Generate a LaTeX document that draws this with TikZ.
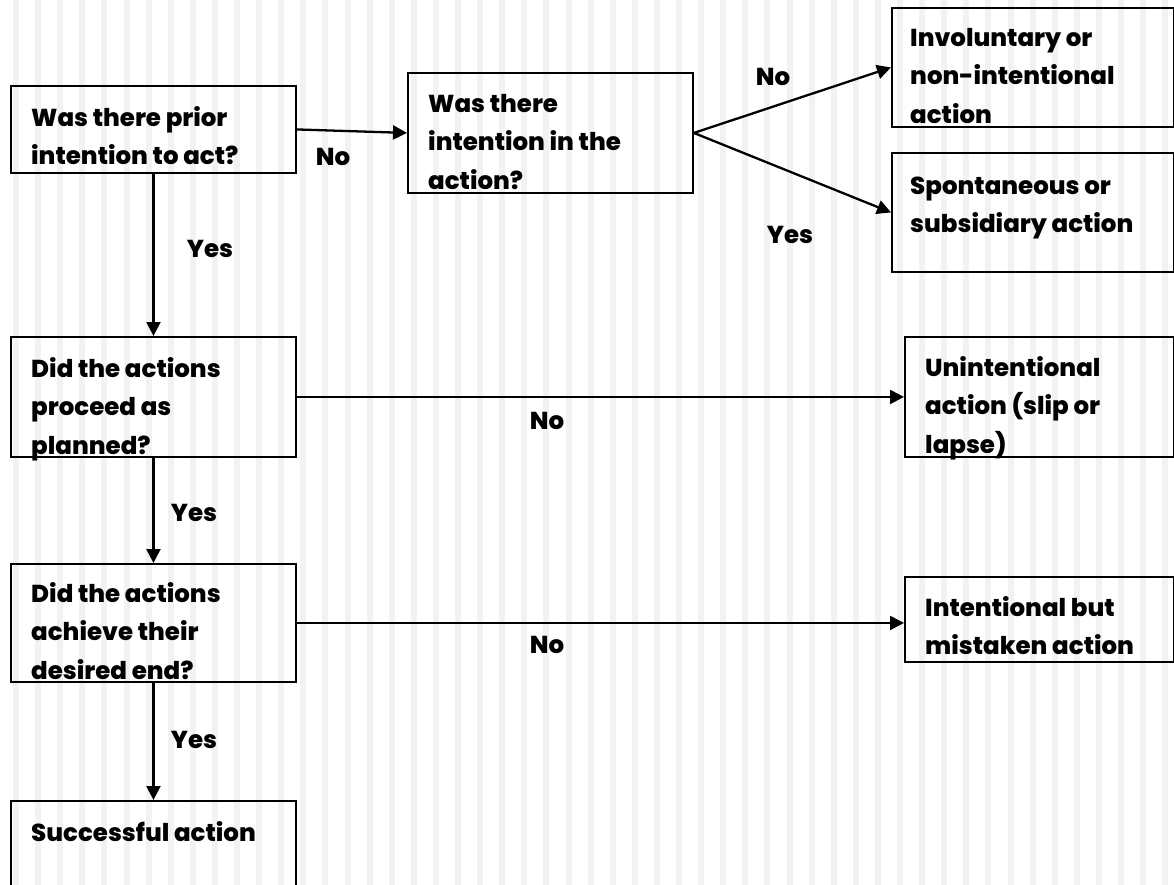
\documentclass[tikz,border=0pt]{standalone}
\usepackage{fontspec}
\setmainfont{Poppins}[BoldFont={Poppins ExtraBold}]
\usetikzlibrary{arrows.meta}
\definecolor{stripe}{HTML}{F2F2F2}
\tikzset{
  box/.style={draw=black, line width=1.9pt, inner sep=0pt, anchor=north west},
  txt/.style={anchor=north west, inner sep=0pt, align=left,
    font=\fontsize{24.5}{38.5}\selectfont\bfseries},
  lbl/.style={inner sep=0pt, font=\fontsize{24.5}{30}\selectfont\bfseries},
  arr/.style={-{Triangle[length=14pt,width=14pt]}, line width=2.3pt},
}
\newcommand{\firstline}{\rule{0pt}{24pt}}
\begin{document}
\begin{tikzpicture}[x=1pt,y=-1pt]
\useasboundingbox (0,0) rectangle (1174,885);
\clip (0,0) rectangle (1174,885);
% striped page background
\fill[white] (0,0) rectangle (1174,885);
\foreach \i in {0,...,52} \fill[stripe] ({13+22.1*\i},0) rectangle ++(6,885);

% decision boxes, left column
\node[box, minimum width=285pt, minimum height=87pt]  (q1) at (10,85)  {};
\node[box, minimum width=285pt, minimum height=120pt] (q2) at (407,72) {};
\node[box, minimum width=285pt, minimum height=120pt] (q3) at (10,336) {};
\node[box, minimum width=285pt, minimum height=118pt] (q4) at (10,563) {};
\node[box, minimum width=285pt, minimum height=110pt] (ok) at (10,800) {};

% outcome boxes, right column
\node[box, minimum width=282pt, minimum height=119pt] (r1) at (891,7)   {};
\node[box, minimum width=282pt, minimum height=119pt] (r2) at (891,152) {};
\node[box, minimum width=269pt, minimum height=120pt] (r3) at (904,336) {};
\node[box, minimum width=269pt, minimum height=85pt]  (r4) at (904,576) {};

% box texts
\node[txt] (tq1) at (31,102)  {\firstline Was there prior\\intention to act?};
\node[txt] (tq2) at (428,88)  {\firstline Was there\\intention in the\\action?};
\node[txt] (tq3) at (31,353)  {\firstline Did the actions\\proceed as\\planned?};
\node[txt] (tq4) at (31,578)  {\firstline Did the actions\\achieve their\\desired end?};
\node[txt] (tok) at (31,817)  {\firstline Successful action};
\node[txt] (tr1) at (910,22)  {\firstline Involuntary or\\non-intentional\\action};
\node[txt] (tr2) at (910,170) {\firstline Spontaneous or\\subsidiary action};
\node[txt] (tr3) at (925,352) {\firstline Unintentional\\action (slip or\\lapse)};
\node[txt] (tr4) at (925,592) {\firstline Intentional but\\mistaken action};

% connectors
\draw[arr] (q1.east) -- (q2.west);
\draw[arr] (q2.east) -- (r1.west);
\draw[arr] (q2.east) -- (r2.west);
\draw[arr] (q1.south) -- (q3.north);
\draw[arr] (q3.east) -- (r3.west);
\draw[arr] (q3.south) -- (q4.north);
\draw[arr] (q4.east) -- (q4.east -| r4.west);
\draw[arr] (q4.south) -- (ok.north);

% branch labels
\node[lbl] (n1) at (333,157) {No};
\node[lbl] (n2) at (773,77)  {No};
\node[lbl] (y2) at (790,235) {Yes};
\node[lbl] (y1) at (210,249) {Yes};
\node[lbl] (n3) at (547,421) {No};
\node[lbl] (y3) at (194,513) {Yes};
\node[lbl] (n4) at (547,645) {No};
\node[lbl] (y4) at (194,740) {Yes};
\end{tikzpicture}
\end{document}
